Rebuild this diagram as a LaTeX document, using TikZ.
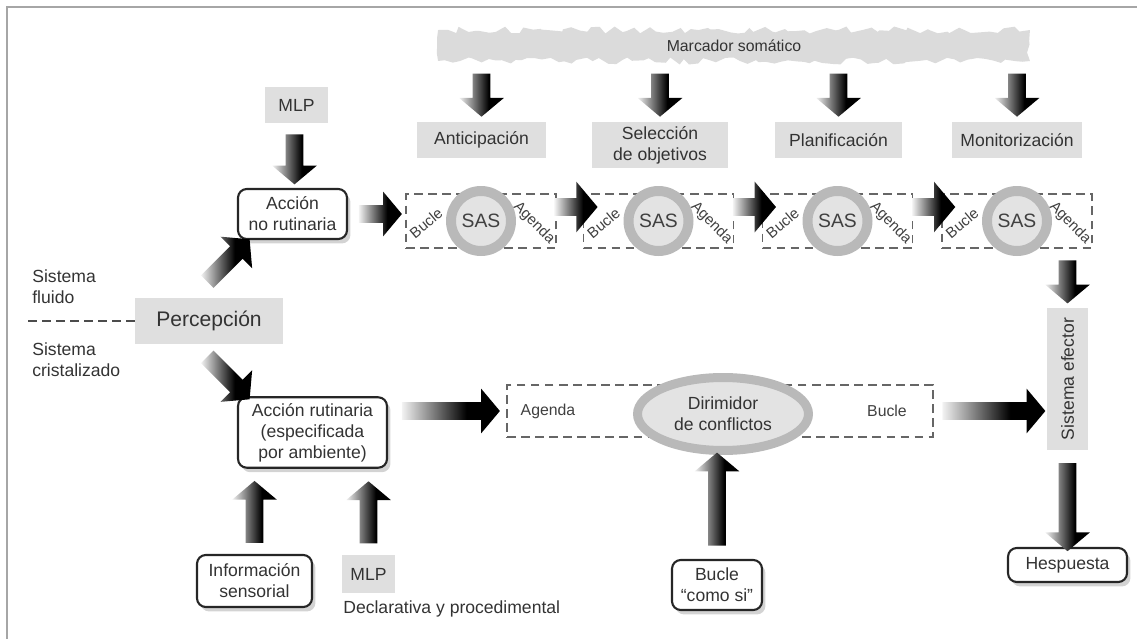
\documentclass[tikz,border=0pt]{standalone}
\usepackage{fontspec}
\usepackage{graphicx}
\setmainfont{Liberation Sans}
\usetikzlibrary{positioning, calc, shapes.geometric, shapes.arrows, shadows, decorations.pathmorphing}

\pgfdeclarehorizontalshading{arrowfade}{100bp}{color(0bp)=(gray!10); color(25bp)=(gray!10); color(58bp)=(black); color(100bp)=(black)}

\tikzset{
 graybox/.style={fill=gray!25, text=black!80, align=center, inner sep=2pt},
 roundbox/.style={draw=black!85, line width=1.2pt, rounded corners=5pt, fill=white,
   text=black!80, align=center,
   drop shadow={opacity=0.35, shadow xshift=0.07cm, shadow yshift=-0.09cm}},
 sasbox/.style={draw=black!60, dash pattern=on 5pt off 3pt, line width=0.8pt,
   minimum width=3cm, minimum height=1.08cm},
 sasring/.style={circle, fill=gray!22, draw=gray!55, line width=0.2cm, minimum size=1.2cm,
   inner sep=0pt, text=black!75, font=\fontsize{11}{13}\selectfont},
 sidelabel/.style={text=black!75, font=\small, inner sep=0pt},
 cornerlabel/.style={text=black!75, font=\fontsize{8.5}{10}\selectfont, inner sep=0pt},
 fatarrow/.style={single arrow, shade, shading=arrowfade, draw=none, inner sep=0.17cm,
   single arrow head extend=0.27cm, single arrow tip angle=100, minimum height=#1},
 band/.style={fill=gray!28, text=black!80, font=\small, minimum width=11.84cm,
   minimum height=0.62cm, decorate,
   decoration={random steps, segment length=4pt, amplitude=2pt}}
}

\begin{document}
\begin{tikzpicture}[x=0.02cm, y=-0.02cm]
 \useasboundingbox (0,0) rectangle (1137,639);
 \draw[gray!70, line width=1pt] (7,639) -- (7,7) -- (1137,7);

 \pgfmathsetseed{7}
 \node[band] (marc) at (734,45.5) {Marcador somático};

 \node[graybox, minimum width=2.58cm, minimum height=0.72cm] (ant) at (481.5,140) {Anticipación};
 \node[graybox, minimum width=2.72cm, minimum height=0.92cm] (sel) at (660,145) {Selección\\de objetivos};
 \node[graybox, minimum width=2.54cm, minimum height=0.72cm] (plan) at (838.5,140) {Planificación};
 \node[graybox, minimum width=2.6cm, minimum height=0.72cm] (moni) at (1017,140) {Monitorización};

 \foreach \t in {ant, sel, plan, moni}
  \path (marc.south -| \t.north) -- node[fatarrow=0.86cm, rotate=-90] {} (\t.north);

 \node[graybox, minimum width=1.26cm, minimum height=0.72cm] (mlpa) at (296.5,105) {MLP};
 \node[roundbox, minimum width=2.18cm, minimum height=1cm] (anr) at (292.5,214) {Acción\\no rutinaria};
 \path (mlpa.south) -- node[fatarrow=1cm, rotate=-90] {} (anr.north);

 \foreach \i/\x in {1/481, 2/658.5, 3/837.5, 4/1017} {
  \node[sasbox] (box\i) at (\x,221) {};
  \node[sasring] (sas\i) at (box\i) {SAS};
  \node[cornerlabel, rotate=40] (bucle\i) at ($(box\i)+(-55,2)$) {Bucle};
  \node[cornerlabel, rotate=-45] (agenda\i) at ($(box\i)+(53,2)$) {Agenda};
 }

 \path (anr.east) -- node[fatarrow=0.86cm] {} (anr.east -| box1.west);
 \foreach \a/\b in {1/2, 2/3, 3/4}
  \path ([yshift=0.28cm]box\a.east) -- node[fatarrow=0.86cm, pos=0.6, single arrow head extend=0.33cm] {} ([yshift=0.28cm]box\b.west);

 \node[graybox, minimum width=0.82cm, minimum height=2.84cm, inner sep=0pt] (eff) at (1067.5,379) {\rotatebox{90}{Sistema efector}};
 \path (box4.south -| eff.north) -- node[fatarrow=0.86cm, rotate=-90] {} (eff.north);
 \node[roundbox, minimum width=2.38cm, minimum height=0.68cm] (resp) at (1067.5,565) {Hespuesta};
 \path (eff.south) -- node[fatarrow=1.76cm, rotate=-90, pos=0.55] {} (resp.north);

 \node[graybox, minimum width=2.96cm, minimum height=0.92cm, font=\large] (perc) at (209,321) {Percepción};
 \coordinate (dl) at (28,321);
 \draw[black!70, dash pattern=on 5pt off 3pt, line width=0.8pt] (dl) -- (perc.west);
 \node[anchor=west, align=left, text=black!80, inner sep=0pt] (fluido) at (32,287) {Sistema\\fluido};
 \node[anchor=west, align=left, text=black!80, inner sep=0pt] (crist) at (32,360) {Sistema\\cristalizado};

 \node[roundbox, minimum width=2.98cm, minimum height=1.38cm] (arut) at (312.5,432.5) {Acción rutinaria\\(especificada\\por ambiente)};
 \path (perc.north) -- node[fatarrow=1.2cm, rotate=45, pos=0.6] {} (anr.south west);
 \path (perc.south) -- node[fatarrow=1.2cm, rotate=-45, pos=0.6] {} (arut.north west);

 \node[sasbox, minimum width=8.52cm, minimum height=1.04cm] (dbox) at (720,411) {};
 \node[ellipse, fill=gray!22, draw=gray!55, line width=0.18cm, minimum width=3.42cm,
   minimum height=1.46cm, align=center, text=black!80] (dirim) at (723,414) {Dirimidor\\de conflictos};
 \node[sidelabel] (agendab) at (548,411) {Agenda};
 \node[sidelabel] (bucleb) at (887,411) {Bucle};
 \path (arut.east |- dbox.west) -- node[fatarrow=1.96cm] {} (dbox.west);
 \path (dbox.east) -- node[fatarrow=2.06cm] {} (dbox.east -| eff.west);

 \node[roundbox, minimum width=2.3cm, minimum height=1.04cm] (info) at (254.5,581) {Información\\sensorial};
 \node[graybox, minimum width=1.06cm, minimum height=0.76cm] (mlpb) at (368.5,574) {MLP};
 \node[anchor=west, text=black!80, inner sep=0pt] (decl) at (343,609) {Declarativa y procedimental};
 \path (info.north) -- node[fatarrow=1.24cm, rotate=90, pos=0.45] {} (info.north |- arut.south);
 \path (mlpb.north) -- node[fatarrow=1.24cm, rotate=90, pos=0.45] {} (mlpb.north |- arut.south);

 \node[roundbox, minimum width=1.8cm, minimum height=1cm] (bcs) at (717,585) {Bucle\\“como si”};
 \path (bcs.north) -- node[fatarrow=1.86cm, rotate=90, pos=0.54] {} (bcs.north |- dirim.south);
\end{tikzpicture}
\end{document}
